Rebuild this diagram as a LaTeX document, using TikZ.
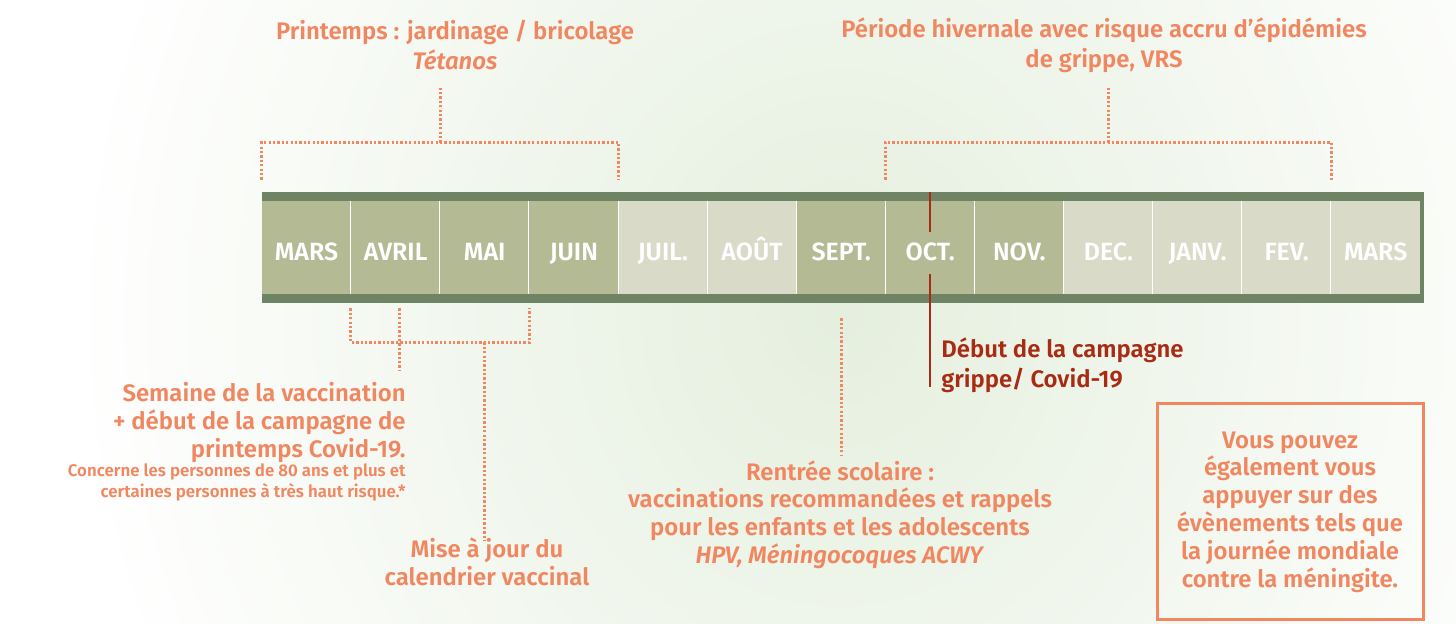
\documentclass[tikz,border=0pt]{standalone}
\usepackage{fontspec}
\setmainfont{Fira Sans}[BoldFont={Fira Sans SemiBold},BoldItalicFont={Fira Sans SemiBold Italic}]
\usepackage{tikz}
\usetikzlibrary{positioning,calc}
\definecolor{tangerine}{RGB}{240,135,96}
\definecolor{brickred}{RGB}{168,44,20}
\definecolor{sagedark}{RGB}{111,132,100}
\definecolor{sagecell}{RGB}{180,186,148}
\definecolor{palecell}{RGB}{217,218,200}
\definecolor{glowgreen}{RGB}{229,239,222}
\tikzset{
  monthcell/.style={minimum width=1.782cm,minimum height=1.86cm,inner sep=0pt,
    text height=15pt,text depth=0pt,
    text=white,font=\bfseries\fontsize{14.2}{16}\selectfont},
  dotline/.style={draw=tangerine,line width=1.6pt,dash pattern=on 1.3pt off 1.2pt},
  flag/.style={draw=brickred,line width=1.1pt},
  note/.style={text=tangerine,font=\bfseries\fontsize{13.6}{15.8}\selectfont,
    align=center,inner sep=0pt},
  headnote/.style={note,font=\bfseries\fontsize{13.6}{17}\selectfont},
  smallnote/.style={note,font=\bfseries\fontsize{9.6}{12}\selectfont}
}

\begin{document}
\begin{tikzpicture}[
  sepline/.style={draw=white,line width=0.6pt},
  infobox/.style={note,draw=tangerine,line width=1.7pt,
    minimum width=5.32cm,minimum height=4.32cm}
]
\useasboundingbox (0,0) rectangle (29.12,12.48);
\fill[white] (0,0) rectangle (29.12,12.48);
\begin{scope}
  \clip (0,0) rectangle (29.12,12.48);
  \shade[inner color=glowgreen,outer color=white] (16.80,6.20) ellipse (15.5 and 17);
\end{scope}

% month bar
\fill[sagedark] (5.24,6.42) rectangle (28.48,8.64);
\foreach \mon/\tone [count=\i from 0] in {MARS/sagecell,AVRIL/sagecell,
    MAI/sagecell,JUIN/sagecell,JUIL./palecell,AOÛT/palecell,SEPT./sagecell,
    OCT./sagecell,NOV./sagecell,DEC./palecell,JANV./palecell,FEV./palecell,
    MARS/palecell}
  \node[monthcell,fill=\tone] (m\i) at ({5.24+0.891+1.782*\i},7.53) {\mon};
\foreach \i in {1,...,12}
  \draw[sepline] (m\i.north west) -- (m\i.south west);

% spring
\node[headnote] (spring) at (9.10,11.58)
  {Printemps : jardinage / bricolage\\\textit{Tétanos}};
\coordinate (springL) at ([yshift=0.42cm]m0.north west);
\coordinate (springR) at ([yshift=0.42cm]m3.north east);
\coordinate (springmid) at ($(springL)!0.5!(springR)+(0,0.74)$);
\draw[dotline] (springL) -- ++(0,0.74) -| (springR);
\draw[dotline] (springmid) -- ++(0,1.10);

% winter
\node[headnote] (winter) at (22.08,11.58)
  {Période hivernale avec risque accru d’épidémies\\de grippe, VRS};
\coordinate (winterL) at ([yshift=0.42cm]m7.north west);
\coordinate (winterR) at ([yshift=0.42cm]m11.north east);
\coordinate (wintermid) at ($(winterL)!0.5!(winterR)+(0,0.74)$);
\draw[dotline] (winterL) -- ++(0,0.74) -| (winterR);
\draw[dotline] (wintermid) -- ++(0,1.10);

% flu campaign
\draw[flag] ([yshift=0.18cm]m7.north) -- ([yshift=-0.62cm]m7.north);
\draw[flag] ([yshift=0.40cm]m7.south) -- ([yshift=-1.86cm]m7.south);
\node[headnote,text=brickred,align=left,anchor=west] (flu) at (18.82,5.18)
  {Début de la campagne\\grippe/ Covid-19};

% vaccination week
\coordinate (vaxL) at ([yshift=-0.28cm]m1.south west);
\coordinate (vaxR) at ([yshift=-0.28cm]m2.south east);
\draw[dotline] (vaxL) -- ++(0,-0.68) -| (vaxR);
\draw[dotline] ([xshift=0.08cm,yshift=-0.28cm]m1.south) -- ++(0,-1.24);
\draw[dotline] ([yshift=-0.96cm]m2.south) -- ++(0,-3.96);
\node[note,align=right,anchor=north east] (vaxweek) at (8.12,4.84)
  {Semaine de la vaccination\\+ début de la campagne de\\printemps Covid-19.};
\node[smallnote,align=right,anchor=north east] (vaxnote) at (8.12,3.22)
  {Concerne les personnes de 80 ans et plus et\\certaines personnes à très haut risque.*};
\node[note] (update) at (9.74,1.25) {Mise à jour du\\calendrier vaccinal};

% school
\draw[dotline] ([yshift=-0.48cm]m6.south) -- ++(0,-2.74);
\node[note] (school) at (16.80,2.19)
  {Rentrée scolaire :\\vaccinations recommandées et rappels\\
   pour les enfants et les adolescents\\\textit{HPV, Méningocoques ACWY}};

% side box
\node[infobox] (extra) at (25.80,2.24)
  {Vous pouvez\\également vous\\appuyer sur des\\évènements tels que\\
   la journée mondiale\\contre la méningite.};
\end{tikzpicture}
\end{document}
